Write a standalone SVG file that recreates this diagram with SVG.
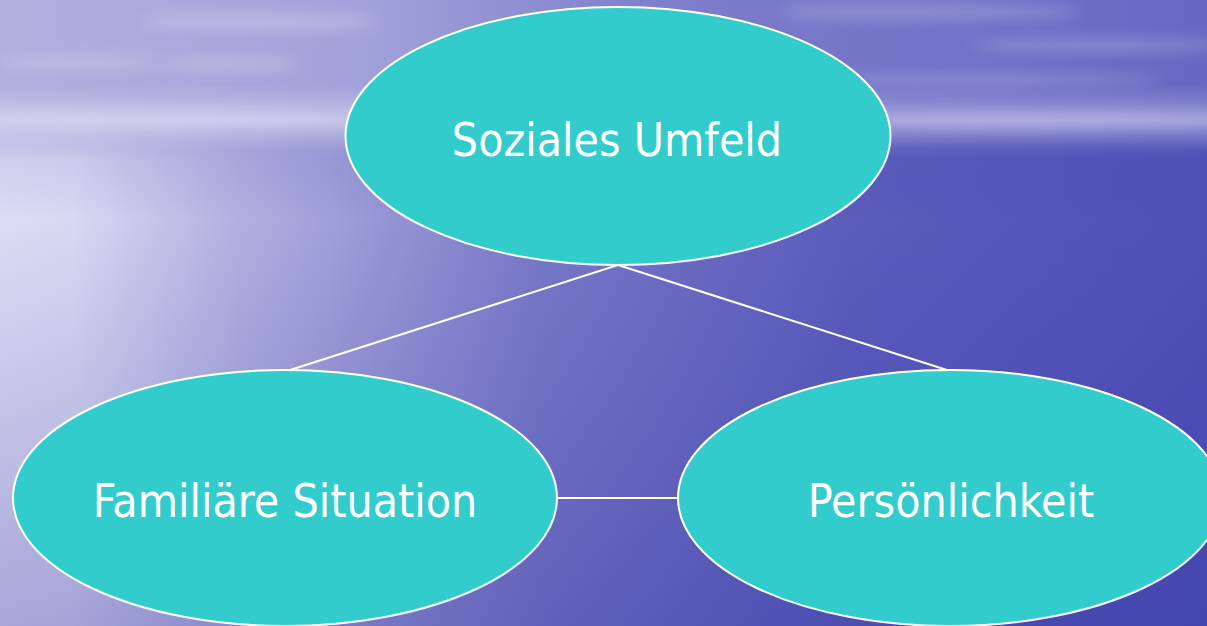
<svg xmlns="http://www.w3.org/2000/svg" width="1207" height="626" viewBox="0 0 1207 626">
<defs>
<linearGradient id="sky" x1="0" y1="0" x2="1" y2="0">
<stop offset="0" stop-color="#b0b0e0"/>
<stop offset="0.3" stop-color="#a2a2da"/>
<stop offset="0.55" stop-color="#7e7ecc"/>
<stop offset="1" stop-color="#6868c4"/>
</linearGradient>
<linearGradient id="sea" x1="0" y1="0" x2="1" y2="0">
<stop offset="0" stop-color="#dcdcf4"/>
<stop offset="0.06" stop-color="#d8d8f2"/>
<stop offset="0.2" stop-color="#b0b0e0"/>
<stop offset="0.45" stop-color="#7878c8"/>
<stop offset="0.7" stop-color="#5c5cbc"/>
<stop offset="1" stop-color="#5050b6"/>
</linearGradient>
<linearGradient id="seaDark" x1="0" y1="0" x2="0" y2="1">
<stop offset="0" stop-color="#a0a0dc" stop-opacity="0.35"/>
<stop offset="0.35" stop-color="#3030a0" stop-opacity="0"/>
<stop offset="1" stop-color="#2a2a9c" stop-opacity="0.3"/>
</linearGradient>
<linearGradient id="horizon" x1="0" y1="0" x2="0" y2="1">
<stop offset="0" stop-color="#ffffff" stop-opacity="0"/>
<stop offset="0.55" stop-color="#ffffff" stop-opacity="0.3"/>
<stop offset="1" stop-color="#ffffff" stop-opacity="0"/>
</linearGradient>
<linearGradient id="fade" x1="0" y1="0" x2="0" y2="1">
<stop offset="0" stop-color="#ffffff"/>
<stop offset="0.75" stop-color="#ffffff"/>
<stop offset="1" stop-color="#000000"/>
</linearGradient>
<mask id="skyMask" maskUnits="userSpaceOnUse" x="0" y="0" width="1207" height="160">
<rect x="0" y="0" width="1207" height="160" fill="url(#fade)"/>
</mask>
<filter id="blur" filterUnits="userSpaceOnUse" x="-50" y="-50" width="1307" height="726"><feGaussianBlur stdDeviation="7"/></filter>
</defs>
<style>
.node ellipse { fill: #33cccc; stroke: #ffffff; stroke-width: 2; }
.node text { fill: #ffffff; font-family: "DejaVu Sans Condensed", "DejaVu Sans", sans-serif; font-stretch: condensed; font-size: 46px; text-anchor: middle; }
#connectors line { stroke: #ffffff; stroke-width: 2; }
</style>
<g id="background">
<rect x="0" y="0" width="1207" height="626" fill="url(#sea)"/>
<rect x="0" y="0" width="1207" height="626" fill="url(#seaDark)"/>
<rect x="0" y="0" width="1207" height="160" fill="url(#sky)" mask="url(#skyMask)"/>
<rect x="0" y="85" width="1207" height="65" fill="url(#horizon)"/>
<g filter="url(#blur)" fill="#ffffff" opacity="0.22">
<ellipse cx="260" cy="22" rx="120" ry="8"/>
<ellipse cx="80" cy="62" rx="80" ry="6"/>
<ellipse cx="230" cy="64" rx="70" ry="6"/>
<ellipse cx="930" cy="12" rx="150" ry="7"/>
<ellipse cx="1100" cy="45" rx="130" ry="6"/>
<ellipse cx="1000" cy="80" rx="160" ry="5"/>
<ellipse cx="160" cy="118" rx="220" ry="9"/>
<ellipse cx="1060" cy="120" rx="200" ry="8"/>
</g>
</g>
<g id="connectors">
<line x1="618" y1="265" x2="287" y2="371"/>
<line x1="618" y1="265" x2="950" y2="371"/>
<line x1="557" y1="498" x2="679" y2="498"/>
</g>
<g id="node-soziales" class="node">
<ellipse cx="618" cy="136" rx="272.5" ry="129"/>
<text x="617" y="156">Soziales Umfeld</text>
</g>
<g id="node-familie" class="node">
<ellipse cx="285" cy="498" rx="272" ry="128"/>
<text x="285" y="517">Familiäre Situation</text>
</g>
<g id="node-persoenlichkeit" class="node">
<ellipse cx="950" cy="498" rx="272" ry="128"/>
<text x="951" y="517">Persönlichkeit</text>
</g>
</svg>
